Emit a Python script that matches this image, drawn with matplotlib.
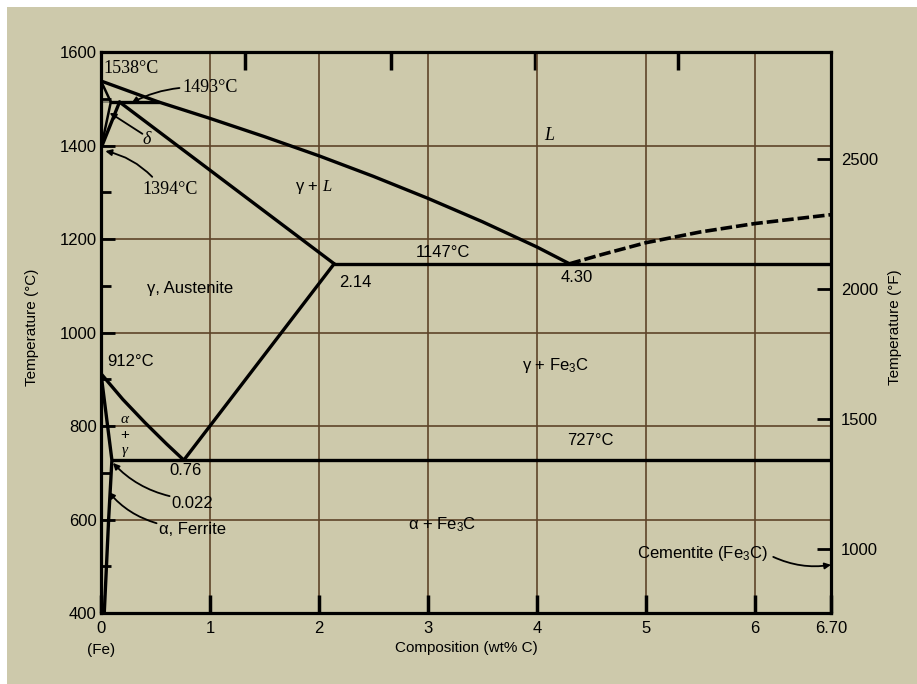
import numpy as np
import matplotlib
matplotlib.use("Agg")
import matplotlib.pyplot as plt
from matplotlib.patches import Rectangle
from matplotlib.transforms import blended_transform_factory

plt.rcParams['font.family'] = ['Liberation Sans', 'DejaVu Sans']
plt.rcParams['mathtext.fontset'] = 'custom'
plt.rcParams['mathtext.rm'] = 'Liberation Sans'
plt.rcParams['mathtext.it'] = 'Liberation Serif:italic'
plt.rcParams['font.size'] = 12

# phase boundaries (wt% C, deg C)
liq_x = [0, 0.53, 1.0, 1.5, 2.0, 2.5, 3.0, 3.5, 4.0, 4.30]
liq_t = [1538, 1493, 1458, 1419, 1378, 1334, 1287, 1237, 1183, 1147]
dsol_x = [0, 0.09]
dsol_t = [1538, 1493]
dgam_x = [0.09, 0]
dgam_t = [1493, 1394]
gam_x = [0, 0.17]
gam_t = [1394, 1493]
perit_x = [0.09, 0.53]
perit_t = [1493, 1493]
solidus_x = [0.17, 2.14]
solidus_t = [1493, 1147]
eutectic_x = [2.14, 6.70]
eutectic_t = [1147, 1147]
acm_x = [0.76, 2.14]
acm_t = [727, 1147]
a3_x = [0, 0.2, 0.4, 0.6, 0.76]
a3_t = [912, 857, 808, 762, 727]
ferr_x = [0, 0.10, 0.07, 0.03]
ferr_t = [912, 727, 600, 400]
eutectoid_x = [0.10, 6.70]
eutectoid_t = [727, 727]
cem_liq_x = [4.30, 4.6, 5.0, 5.5, 6.0, 6.70]
cem_liq_t = [1147, 1167, 1192, 1215, 1233, 1252]

xticks = [0, 1, 2, 3, 4, 5, 6, 6.70]
xticklabels = ['0', '1', '2', '3', '4', '5', '6', '6.70']
top_ticks = [1.32, 2.66, 3.98, 5.30]
yticks = [400, 600, 800, 1000, 1200, 1400, 1600]
yminor = [500, 700, 900, 1100, 1300, 1500]
fticks = [1000, 1500, 2000, 2500]

bg = '#cdc9ab'
grid_c = '#5e4429'

fig = plt.figure(figsize=(9.17, 6.84), dpi=100, facecolor='white')
fig.patches.append(Rectangle((7/917, 0), 1 - 7/917, 1 - 7/684, transform=fig.transFigure,
                             facecolor=bg, edgecolor='none', zorder=-10))
ax = fig.add_axes([101/917, 1 - 613/684, 730/917, 561/684])
ax.set_facecolor(bg)
ax.set_xlim(0, 6.70)
ax.set_ylim(400, 1600)

for x in range(1, 7):
    ax.axvline(x, color=grid_c, lw=1.2, zorder=1)
for y in [600, 800, 1000, 1200, 1400]:
    ax.axhline(y, color=grid_c, lw=1.2, zorder=1)

lk = dict(color='black', lw=2.4, solid_capstyle='round', solid_joinstyle='round', zorder=3)
ax.plot(liq_x, liq_t, **lk)
ax.plot(dsol_x, dsol_t, color='black', lw=1.8, zorder=3)
ax.plot(dgam_x, dgam_t, color='black', lw=1.8, zorder=3)
ax.plot(gam_x, gam_t, **lk)
ax.plot(perit_x, perit_t, **lk)
ax.plot([0, 0.09], [1493, 1493], color='#777766', lw=1.2, zorder=2)
ax.plot(solidus_x, solidus_t, **lk)
ax.plot(eutectic_x, eutectic_t, **lk)
ax.plot(acm_x, acm_t, **lk)
ax.plot(a3_x, a3_t, **lk)
ax.plot(ferr_x, ferr_t, **lk)
ax.plot(eutectoid_x, eutectoid_t, **lk)
ax.plot(cem_liq_x, cem_liq_t, color='black', lw=2.6, ls=(0, (3.2, 1.1)), zorder=3)

for s in ax.spines.values():
    s.set_linewidth(2.3)
ax.set_xticks(xticks)
ax.set_xticklabels(xticklabels)
ax.set_yticks(yticks)
ax.set_yticks(yminor, minor=True)
ax.tick_params(axis='x', direction='in', length=13, width=2.5, pad=6)
ax.tick_params(axis='y', which='major', direction='in', length=10, width=2, pad=3)
ax.tick_params(axis='y', which='minor', direction='in', length=7, width=2)
ax.tick_params(labelsize=12)

top = ax.secondary_xaxis('top')
top.set_xticks(top_ticks)
top.set_xticklabels([])
top.tick_params(direction='in', length=13, width=2.5)
top.spines['top'].set_visible(False)

sec = ax.secondary_yaxis('right', functions=(lambda c: c * 9 / 5 + 32, lambda f: (f - 32) * 5 / 9))
sec.set_yticks(fticks)
sec.tick_params(direction='in', length=10, width=2, pad=7, labelsize=12)
sec.spines['right'].set_visible(False)
ax.text(1.088, 0.51, 'Temperature (°F)', transform=ax.transAxes, rotation=90,
        ha='center', va='center', fontsize=11)
ax.text(-0.095, 0.51, 'Temperature (°C)', transform=ax.transAxes, rotation=90,
        ha='center', va='center', fontsize=11)
ax.text(0.5, -0.062, 'Composition (wt% C)', transform=ax.transAxes,
        ha='center', va='center', fontsize=11)
tr = blended_transform_factory(ax.transData, ax.transAxes)
ax.text(0, -0.066, '(Fe)', transform=tr, ha='center', va='center', fontsize=11)

tk = dict(fontsize=12, ha='center', va='center', zorder=5)
serif = ['Liberation Serif', 'DejaVu Serif']
ax.text(0.02, 1564, '1538°C', ha='left', va='center', fontsize=13, family=serif)
ax.text(0.75, 1525, '1493°C', ha='left', va='center', fontsize=13, family=serif)
ax.text(0.38, 1305, '1394°C', ha='left', va='center', fontsize=13, family=serif)
ax.text(0.42, 1412, 'δ', fontsize=13, style='italic', ha='center', va='center', family=serif)
ax.text(0.06, 937, '912°C', ha='left', va='center', fontsize=12)
ax.text(0.22, 814, 'α', fontsize=11, style='italic', ha='center', va='center', family=serif)
ax.text(0.22, 781, '+', fontsize=11, ha='center', va='center')
ax.text(0.22, 748, 'γ', fontsize=11, style='italic', ha='center', va='center', family=serif)
ax.text(0.78, 704, '0.76', **tk)
ax.text(0.84, 635, '0.022', **tk)
ax.text(0.84, 578, 'α, Ferrite', **tk)
ax.text(0.82, 1095, 'γ, Austenite', **tk)
ax.text(1.95, 1311, 'γ + $\\mathit{L}$', **tk)
ax.text(4.11, 1422, 'L', fontsize=13, style='italic', ha='center', va='center', family=serif)
ax.text(3.14, 1172, '1147°C', **tk)
ax.text(2.33, 1108, '2.14', **tk)
ax.text(4.37, 1117, '4.30', **tk)
ax.text(4.17, 930, 'γ + Fe$_3$C', **tk)
ax.text(4.49, 768, '727°C', **tk)
ax.text(3.13, 588, 'α + Fe$_3$C', **tk)
ax.text(5.52, 528, 'Cementite (Fe$_3$C)', **tk)

ap = dict(arrowstyle='-|>', color='black', lw=1.3, mutation_scale=9, shrinkA=0, shrinkB=0)
arrows = [((0.72, 1523), (0.28, 1491), 0.1),
          ((0.38, 1425), (0.08, 1470), 0.0),
          ((0.47, 1333), (0.04, 1388), 0.15),
          ((0.63, 650), (0.11, 721), -0.15),
          ((0.51, 592), (0.07, 659), -0.15),
          ((6.17, 520), (6.70, 503), 0.15)]
for (x0, y0), (x1, y1), rad in arrows:
    ax.annotate('', xy=(x1, y1), xytext=(x0, y0),
                arrowprops=dict(connectionstyle=f'arc3,rad={rad}', **ap), zorder=4)

fig.savefig('out.png', dpi=100, facecolor=fig.get_facecolor())
